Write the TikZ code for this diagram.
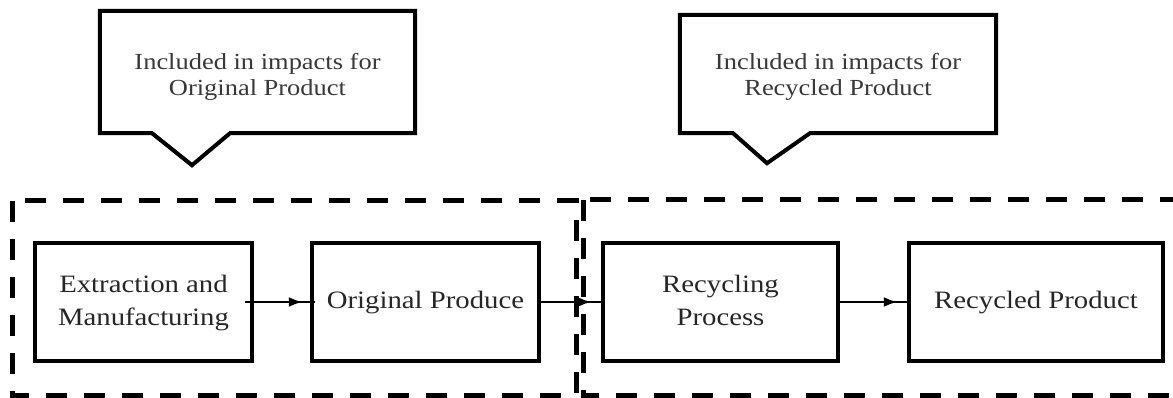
\documentclass[tikz,border=0pt]{standalone}
\usepackage{fontspec}
\usepackage{graphicx}
\setmainfont{Liberation Serif}
\usetikzlibrary{arrows.meta,decorations.markings}
\newcommand{\stretchtxt}[1]{\scalebox{1.15}[1]{\begin{tabular}{@{}c@{}}#1\end{tabular}}}
\tikzset{
  procbox/.style={draw=black, line width=4.5pt, rectangle, inner sep=0pt,
    font=\fontsize{25}{33}\selectfont, text=black!85, align=center},
  calloutbox/.style={rectangle, inner sep=0pt},
  callouttext/.style={inner sep=0pt, font=\fontsize{23}{26}\selectfont, text=black!78, align=center},
  calloutline/.style={draw=black, line width=4pt, line join=miter},
  groupbox/.style={draw=black, line width=5pt, dash pattern=on 21pt off 17pt},
  conn/.style={draw=black, line width=2.5pt,
    postaction={decorate}, decoration={markings,
      mark=at position -#1 with {\arrow{Latex[length=14pt,width=10pt]}}}},
}
\begin{document}
\begin{tikzpicture}[x=1pt,y=-1pt]
\useasboundingbox (0,0) rectangle (1173,398);
% grouping dashed boxes
\draw[groupbox] (12,201) rectangle (576,395);
\draw[groupbox] (583,200) rectangle (1200,395);
% process boxes
\node[procbox, minimum width=217pt, minimum height=118pt] (ext) at (143.5,302) {\stretchtxt{Extraction and\\Manufacturing}};
\node[procbox, minimum width=227pt, minimum height=118pt] (orig) at (425.5,302) {\stretchtxt{Original Produce}};
\node[procbox, minimum width=235pt, minimum height=118pt] (rproc) at (720.5,302) {\stretchtxt{Recycling\\Process}};
\node[procbox, minimum width=254pt, minimum height=118pt] (rprod) at (1036,302) {\stretchtxt{Recycled Product}};
% connectors
\draw[conn=12pt] ([xshift=-9pt]ext.east) -- ([xshift=5pt]orig.west);
\draw[conn=13pt] (orig.east) -- ([xshift=4pt]rproc.west);
\draw[conn=9pt] (rproc.east) -- (rprod.west);
% callouts
\node[calloutbox, minimum width=315pt, minimum height=122pt] (ca) at (257.5,72) {};
\node[calloutbox, minimum width=316pt, minimum height=118pt] (cb) at (838,74) {};
\node[callouttext] (caT) at ([yshift=-5pt]ca.center) {\stretchtxt{Included in impacts for\\Original Product}};
\node[callouttext] (cbT) at ([yshift=-3pt]cb.center) {\stretchtxt{Included in impacts for\\Recycled Product}};
\draw[calloutline] (ca.north west) -- (ca.north east) -- (ca.south east)
  -- ([xshift=-27.5pt]ca.south) -- ([xshift=-65.5pt,yshift=-32pt]ca.south)
  -- ([xshift=-105.5pt]ca.south) -- (ca.south west) -- cycle;
\draw[calloutline] (cb.north west) -- (cb.north east) -- (cb.south east)
  -- ([xshift=-28pt]cb.south) -- ([xshift=-71pt,yshift=-30pt]cb.south)
  -- ([xshift=-105pt]cb.south) -- (cb.south west) -- cycle;
\end{tikzpicture}
\end{document}
